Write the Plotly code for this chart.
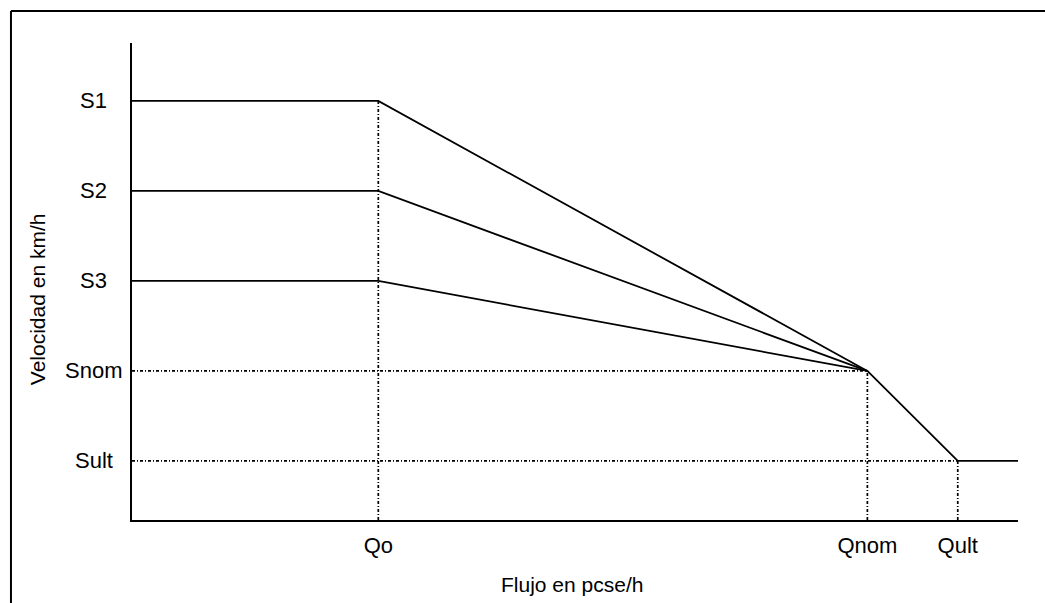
import plotly.graph_objects as go

# Flow levels on the horizontal axis (relative units, axis spans 0..100)
flow_labels = ["Qo", "Qnom", "Qult"]
flow_vals = [27.8, 83.0, 93.2]
flow_end = 100.0

# Speed levels on the vertical axis
speed_labels = ["S1", "S2", "S3", "Snom", "Sult"]
speed_vals = [5.0, 4.0, 3.0, 2.0, 1.0]
y_range = [0.344, 5.644]

q_o, q_nom, q_ult = flow_vals
s_nom, s_ult = speed_vals[3], speed_vals[4]

FONT = "Liberation Sans, Arial, sans-serif"
solid = dict(color="black", width=1.8)
dotted = dict(color="black", width=1.7, dash="3px,2px,1px,2px")

fig = go.Figure()

# Free-flow speed curves S1..S3 falling to the nominal point
for s in speed_vals[:3]:
    fig.add_trace(go.Scatter(x=[0, q_o, q_nom], y=[s, s, s_nom],
                             mode="lines", line=solid, hoverinfo="skip"))

# Shared branch from nominal to ultimate capacity
fig.add_trace(go.Scatter(x=[q_nom, q_ult, flow_end], y=[s_nom, s_ult, s_ult],
                         mode="lines", line=solid, hoverinfo="skip"))

# Reference guides
guides = [
    ([q_o, q_o], [y_range[0], speed_vals[0]]),
    ([q_nom, q_nom], [y_range[0], s_nom]),
    ([q_ult, q_ult], [y_range[0], s_ult]),
    ([0, q_nom], [s_nom, s_nom]),
    ([0, q_ult], [s_ult, s_ult]),
]
for gx, gy in guides:
    fig.add_trace(go.Scatter(x=gx, y=gy, mode="lines", line=dotted,
                             hoverinfo="skip"))

# Speed labels, centred left of the vertical axis
for lab, val in zip(speed_labels, speed_vals):
    fig.add_annotation(text=lab, x=-0.0429, xref="paper", y=val, yref="y",
                       xanchor="center", yanchor="middle", showarrow=False,
                       font=dict(family=FONT, size=22, color="black"))

# Axis titles
fig.add_annotation(text="Flujo en pcse/h", x=0.497, xref="paper", y=-0.136,
                   yref="paper", xanchor="center", yanchor="middle",
                   showarrow=False, font=dict(family=FONT, size=21, color="black"))
fig.add_annotation(text="Velocidad en km/h", x=-0.1072, xref="paper", y=0.463,
                   yref="paper", xanchor="center", yanchor="middle",
                   textangle=-90, showarrow=False,
                   font=dict(family=FONT, size=21, color="black"))

# Outer frame (top and left edges)
fig.add_shape(type="line", xref="paper", yref="paper",
              x0=-0.1366, x1=1.1, y0=1.067, y1=1.067,
              line=dict(color="black", width=2))
fig.add_shape(type="line", xref="paper", yref="paper",
              x0=-0.1366, x1=-0.1366, y0=1.067, y1=-0.3,
              line=dict(color="black", width=2))

fig.update_layout(
    width=1045, height=603,
    margin=dict(l=132, r=27, t=43, b=83),
    paper_bgcolor="white", plot_bgcolor="white",
    showlegend=False,
    font=dict(family=FONT, color="black"),
)
fig.update_xaxes(range=[0, flow_end], showgrid=False, zeroline=False,
                 showline=True, linecolor="black", linewidth=2,
                 tickvals=flow_vals, ticktext=flow_labels, ticks="",
                 ticklabelstandoff=5,
                 tickfont=dict(family=FONT, size=22, color="black"))
fig.update_yaxes(range=y_range, showgrid=False, zeroline=False,
                 showline=True, linecolor="black", linewidth=2,
                 showticklabels=False, ticks="")

fig.write_html("out.html")
